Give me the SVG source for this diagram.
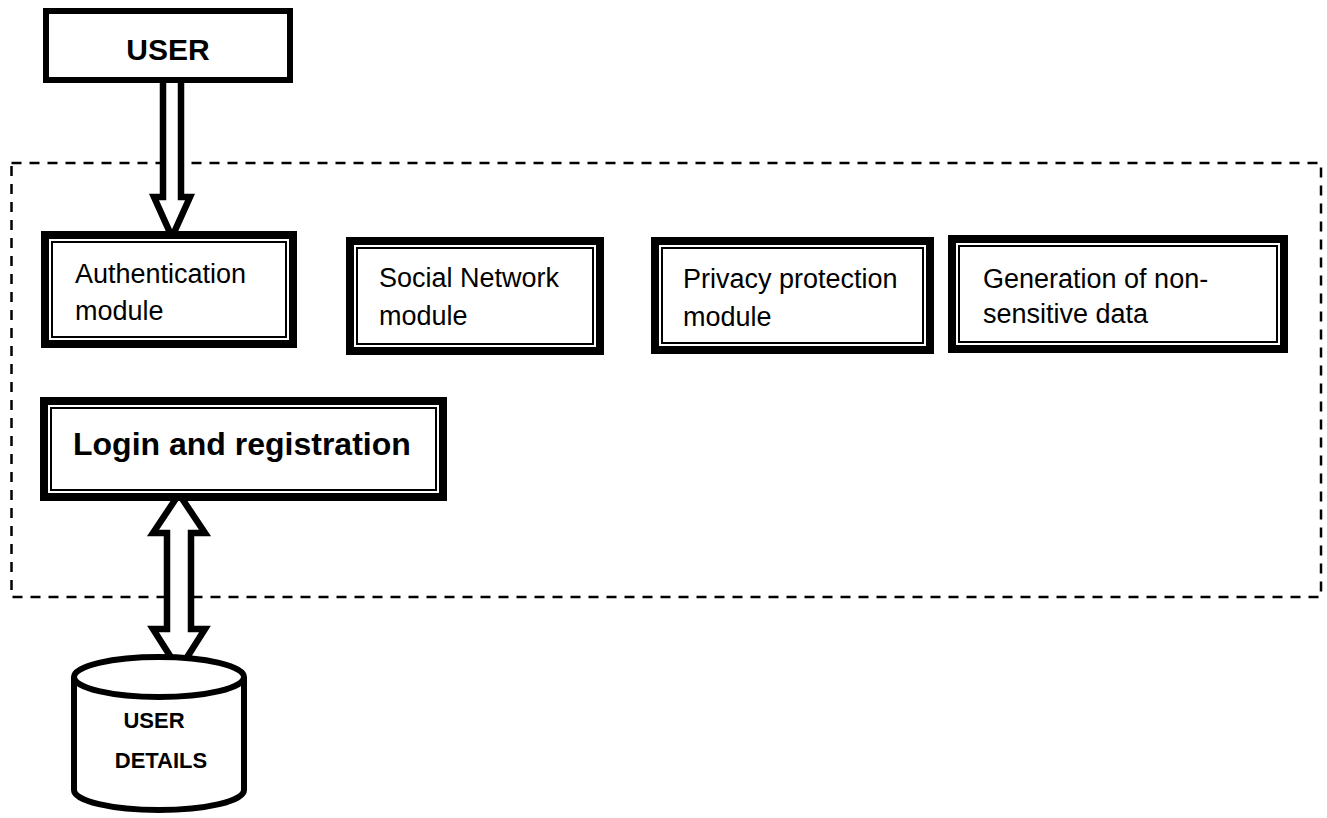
<svg xmlns="http://www.w3.org/2000/svg" width="1327" height="818" viewBox="0 0 1327 818">
<style>
.outer{fill:#fff;stroke:#000;stroke-width:8}
.inner{fill:none;stroke:#000;stroke-width:2}
.t{font-family:"Liberation Sans",Arial,sans-serif;font-size:27px;fill:#000}
.b{font-family:"Liberation Sans",Arial,sans-serif;font-weight:bold;fill:#000}
.arrow{fill:#fff;stroke:#000;stroke-width:6.5;stroke-linejoin:miter}
</style>
<rect width="1327" height="818" fill="#fff"/>
<g id="boundary">
<rect x="11.5" y="163" width="1309.5" height="434" fill="none" stroke="#000" stroke-width="2.5" stroke-dasharray="10 8"/>
</g>
<g id="connectors">
<polygon class="arrow" points="163,78 163,197 154,197 172,237 190,197 181,197 181,78"/>
<polygon class="arrow" points="179,494 153,533 167,533 167,629 153,629 179,670 205,629 191,629 191,533 205,533"/>
</g>
<g id="user">
<rect x="46" y="11" width="244" height="69" fill="#fff" stroke="#000" stroke-width="6"/>
<text class="b" x="168" y="60" font-size="30" text-anchor="middle">USER</text>
</g>
<g id="auth">
<rect class="outer" x="45" y="235" width="248" height="109"/>
<rect class="inner" x="52" y="242" width="234" height="95"/>
<text class="t" x="75" y="283">Authentication</text>
<text class="t" x="75" y="320">module</text>
</g>
<g id="social">
<rect class="outer" x="350" y="241" width="250" height="110"/>
<rect class="inner" x="357" y="248" width="236" height="96"/>
<text class="t" x="379" y="287">Social Network</text>
<text class="t" x="379" y="325">module</text>
</g>
<g id="privacy">
<rect class="outer" x="655" y="241" width="275" height="109"/>
<rect class="inner" x="662" y="248" width="261" height="95"/>
<text class="t" x="683" y="288">Privacy protection</text>
<text class="t" x="683" y="326">module</text>
</g>
<g id="generation">
<rect class="outer" x="952" y="239" width="332" height="110"/>
<rect class="inner" x="959" y="246" width="318" height="96"/>
<text class="t" x="983" y="288">Generation of non-</text>
<text class="t" x="983" y="323">sensitive data</text>
</g>
<g id="login">
<rect class="outer" x="44" y="401" width="399" height="96"/>
<rect class="inner" x="51" y="408" width="385" height="82"/>
<text class="b" x="73" y="455" font-size="32">Login and registration</text>
</g>
<g id="userdetails">
<path d="M74,677 L74,790 A85,20 0 0 0 244,790 L244,677" fill="#fff" stroke="#000" stroke-width="6"/>
<ellipse cx="159" cy="677" rx="85" ry="20" fill="#fff" stroke="#000" stroke-width="6"/>
<text class="b" x="154" y="728" font-size="22" text-anchor="middle">USER</text>
<text class="b" x="161" y="768" font-size="22" text-anchor="middle">DETAILS</text>
</g>
</svg>
